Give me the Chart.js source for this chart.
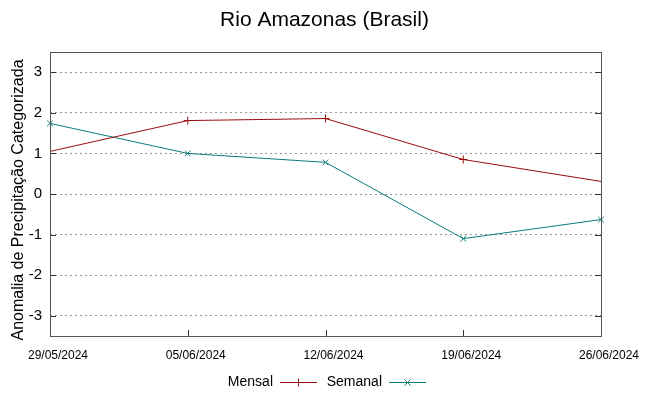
<!DOCTYPE html>
<html>
<head>
<meta charset="utf-8">
<script src="https://cdn.jsdelivr.net/npm/chart.js@4"></script>
<style>
  body { margin: 0; background: #fff; }
</style>
</head>
<body>
<canvas id="rioChart" width="649" height="396"></canvas>
<script>
var titulo = "Rio Amazonas (Brasil)";
var tituloY = "Anomalia de Precipitação Categorizada";
var categorias = ["29/05/2024", "05/06/2024", "12/06/2024", "19/06/2024", "26/06/2024"];
var mensal = [1.05, 1.81, 1.86, 0.85, 0.31];
var semanal = [1.74, 1.0, 0.78, -1.10, -0.63];
var yTicks = [-3, -2, -1, 0, 1, 2, 3];

var corMensal = "#9b0b0b";
var corSemanal = "#0a7b7b";

// titulos, moldura, marcas internas e legenda no estilo gnuplot
var gnuplotStyle = {
  id: "gnuplotStyle",
  afterDraw: function (chart) {
    var ctx = chart.ctx;
    var a = chart.chartArea;
    var y = chart.scales.y;
    var x = chart.scales.x;
    ctx.save();

    ctx.fillStyle = "#000";
    ctx.font = "21px 'Liberation Sans', Arial, sans-serif";
    ctx.textAlign = "center";
    ctx.textBaseline = "middle";
    ctx.fillText(titulo, chart.width / 2, 20);

    ctx.save();
    ctx.translate(19, 200);
    ctx.rotate(-Math.PI / 2);
    ctx.font = "16px 'Liberation Sans', Arial, sans-serif";
    ctx.fillText(tituloY, 0, 0);
    ctx.restore();

    ctx.strokeStyle = "#333";
    ctx.lineWidth = 1;
    yTicks.forEach(function (v) {
      var py = Math.round(y.getPixelForValue(v)) + 0.5;
      ctx.beginPath();
      ctx.moveTo(a.left, py); ctx.lineTo(a.left + 6, py);
      ctx.moveTo(a.right, py); ctx.lineTo(a.right - 6, py);
      ctx.stroke();
    });
    categorias.forEach(function (c, i) {
      var px = Math.round(x.getPixelForValue(i)) + 0.5;
      ctx.beginPath();
      ctx.moveTo(px, a.bottom); ctx.lineTo(px, a.bottom - 6);
      ctx.stroke();
    });
    ctx.strokeStyle = "#555";
    ctx.strokeRect(Math.round(a.left) + 0.5, Math.round(a.top) + 0.5,
      Math.round(a.right - a.left), Math.round(a.bottom - a.top));

    // legenda
    ctx.font = "14px 'Liberation Sans', Arial, sans-serif";
    ctx.textBaseline = "middle";
    ctx.textAlign = "right";
    var ly = 382.5;
    var itens = [
      { label: "Mensal", cor: corMensal, tx: 273, x0: 280, x1: 317, mark: "cross" },
      { label: "Semanal", cor: corSemanal, tx: 382, x0: 389, x1: 426, mark: "x" }
    ];
    itens.forEach(function (it) {
      ctx.fillStyle = "#000";
      ctx.fillText(it.label, it.tx, ly);
      ctx.strokeStyle = it.cor;
      ctx.beginPath();
      ctx.moveTo(it.x0, ly); ctx.lineTo(it.x1, ly);
      var cx = (it.x0 + it.x1) / 2;
      if (it.mark === "cross") {
        ctx.moveTo(cx, ly - 4); ctx.lineTo(cx, ly + 4);
      } else {
        ctx.moveTo(cx - 3, ly - 3); ctx.lineTo(cx + 3, ly + 3);
        ctx.moveTo(cx - 3, ly + 3); ctx.lineTo(cx + 3, ly - 3);
      }
      ctx.stroke();
    });
    ctx.restore();
  }
};

var ctx = document.getElementById("rioChart").getContext("2d");
var chart = new Chart(ctx, {
  type: "line",
  data: {
    labels: categorias,
    datasets: [
      {
        label: "Mensal",
        data: mensal,
        borderColor: corMensal,
        backgroundColor: corMensal,
        borderWidth: 1,
        pointStyle: "cross",
        pointRadius: [0, 4, 4, 4, 0],
        pointBorderWidth: 1,
        tension: 0,
        fill: false
      },
      {
        label: "Semanal",
        data: semanal,
        borderColor: corSemanal,
        backgroundColor: corSemanal,
        borderWidth: 1,
        pointStyle: "crossRot",
        pointRadius: 4,
        pointBorderWidth: 1,
        tension: 0,
        fill: false
      }
    ]
  },
  options: {
    responsive: false,
    animation: false,
    layout: {
      padding: { left: 0, right: 48, top: 52, bottom: 0 }
    },
    plugins: {
      legend: { display: false },
      tooltip: { enabled: false },
      title: { display: false }
    },
    scales: {
      x: {
        type: "category",
        offset: false,
        grid: { display: false, drawTicks: false },
        border: { display: false },
        ticks: {
          color: "#000",
          maxRotation: 0,
          autoSkip: false,
          padding: 12,
          labelOffset: 8,
          font: { family: "'Liberation Sans Narrow', 'Liberation Sans', Arial, sans-serif", size: 12 }
        },
        afterFit: function (scale) { scale.height = 60; }
      },
      y: {
        min: -3.5,
        max: 3.5,
        afterBuildTicks: function (scale) {
          scale.ticks = yTicks.map(function (v) { return { value: v }; });
        },
        grid: {
          color: "#999",
          lineWidth: 1,
          drawTicks: false
        },
        border: { display: false, dash: [2, 3] },
        ticks: {
          color: "#000",
          padding: 8,
          font: { family: "'Liberation Sans', Arial, sans-serif", size: 15 }
        },
        afterFit: function (scale) { scale.width = 50; }
      }
    }
  },
  plugins: [gnuplotStyle]
});
</script>
</body>
</html>
